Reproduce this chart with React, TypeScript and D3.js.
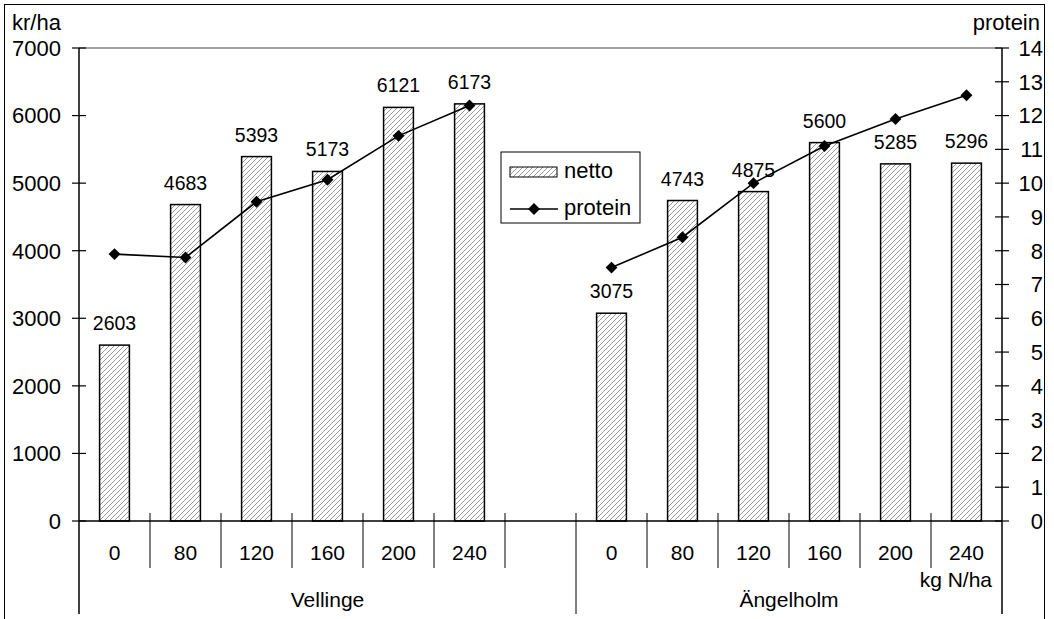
import React, { useEffect, useRef } from "react";
import * as d3 from "d3";

// slots along the x axis: 6 Vellinge rates, an empty gap slot, 6 Ängelholm rates
const slots = ["V0", "V80", "V120", "V160", "V200", "V240", "gap", "A0", "A80", "A120", "A160", "A200", "A240"];
const slotLabels = ["0", "80", "120", "160", "200", "240", "", "0", "80", "120", "160", "200", "240"];
const netto = [2603, 4683, 5393, 5173, 6121, 6173, null, 3075, 4743, 4875, 5600, 5285, 5296];
const protein = [7.9, 7.8, 9.45, 10.1, 11.4, 12.3, null, 7.5, 8.4, 10.0, 11.1, 11.9, 12.6];
const groups = [
  { name: "Vellinge", from: 0, to: 7 },
  { name: "Ängelholm", from: 7, to: 13 },
];
const leftTicks = d3.range(0, 7001, 1000);
const rightTicks = d3.range(0, 15, 1);

const FONT = "'Liberation Sans', Arial, sans-serif";

export default function App() {
  const ref = useRef<SVGSVGElement>(null);

  useEffect(() => {
    const svg = d3.select(ref.current);
    svg.selectAll("*").remove();

    const left = 79, right = 1002, top = 48, bottom = 521;

    const x = d3.scaleBand<string>().domain(slots).range([left, right]).padding(0);
    const yL = d3.scaleLinear().domain([0, 7000]).range([bottom, top]);
    const yR = d3.scaleLinear().domain([0, 14]).range([bottom, top]);
    const barW = x.bandwidth() * 0.42;
    const cx = (i: number) => (x(slots[i]) as number) + x.bandwidth() / 2;

    const defs = svg.append("defs");
    const pat = defs.append("pattern").attr("id", "hatch")
      .attr("patternUnits", "userSpaceOnUse").attr("width", 5).attr("height", 5);
    pat.append("rect").attr("width", 5).attr("height", 5).attr("fill", "#fff");
    pat.append("path").attr("d", "M-1,1 l2,-2 M0,5 l5,-5 M4,6 l2,-2")
      .attr("stroke", "#999").attr("stroke-width", 1);

    // outer frame
    svg.append("rect").attr("x", 4.5).attr("y", 4.5).attr("width", 1040).attr("height", 640)
      .attr("fill", "none").attr("stroke", "#000").attr("stroke-width", 1);

    // top border of plot area
    svg.append("line").attr("x1", left).attr("x2", right).attr("y1", top).attr("y2", top)
      .attr("stroke", "#808080").attr("stroke-width", 1.5);

    // bars
    const g = svg.append("g");
    netto.forEach((v, i) => {
      if (v == null) return;
      g.append("rect")
        .attr("x", cx(i) - barW / 2).attr("y", yL(v))
        .attr("width", barW).attr("height", bottom - yL(v))
        .attr("fill", "url(#hatch)").attr("stroke", "#000").attr("stroke-width", 1.5);
      g.append("text")
        .attr("x", cx(i)).attr("y", yL(v) - 15)
        .attr("text-anchor", "middle").attr("font-size", 19.5).attr("font-family", FONT)
        .text(v);
    });

    // axes lines
    svg.append("line").attr("x1", left).attr("x2", left).attr("y1", top).attr("y2", 614)
      .attr("stroke", "#000").attr("stroke-width", 1.5);
    svg.append("line").attr("x1", right).attr("x2", right).attr("y1", top).attr("y2", 614)
      .attr("stroke", "#000").attr("stroke-width", 1.5);
    svg.append("line").attr("x1", left).attr("x2", right).attr("y1", bottom).attr("y2", bottom)
      .attr("stroke", "#000").attr("stroke-width", 1.5);

    leftTicks.forEach(t => {
      svg.append("line").attr("x1", left - 7).attr("x2", left + 7).attr("y1", yL(t)).attr("y2", yL(t))
        .attr("stroke", "#000").attr("stroke-width", 1.2);
      svg.append("text").attr("x", 61).attr("y", yL(t)).attr("dy", "0.36em")
        .attr("text-anchor", "end").attr("font-size", 22).attr("font-family", FONT).text(t);
    });
    rightTicks.forEach(t => {
      svg.append("line").attr("x1", right - 7).attr("x2", right + 7).attr("y1", yR(t)).attr("y2", yR(t))
        .attr("stroke", "#000").attr("stroke-width", 1.2);
      svg.append("text").attr("x", 1043).attr("y", yR(t)).attr("dy", "0.36em")
        .attr("text-anchor", "end").attr("font-size", 22).attr("font-family", FONT).text(t);
    });

    // category separators
    d3.range(1, slots.length).forEach(k => {
      const xx = x(slots[k]) as number;
      const long = groups.some(gr => gr.from === k);
      svg.append("line").attr("x1", xx).attr("x2", xx).attr("y1", bottom - 8).attr("y2", long ? 614 : 568)
        .attr("stroke", "#000").attr("stroke-width", 1);
    });
    slotLabels.forEach((l, i) => {
      svg.append("text").attr("x", cx(i)).attr("y", 560)
        .attr("text-anchor", "middle").attr("font-size", 21).attr("font-family", FONT).text(l);
    });
    groups.forEach(gr => {
      const x0 = x(slots[gr.from]) as number;
      const x1 = gr.to >= slots.length ? right : (x(slots[gr.to]) as number);
      svg.append("text").attr("x", (x0 + x1) / 2).attr("y", 607)
        .attr("text-anchor", "middle").attr("font-size", 21).attr("font-family", FONT).text(gr.name);
    });
    svg.append("text").attr("x", 992).attr("y", 587).attr("text-anchor", "end")
      .attr("font-size", 21).attr("font-family", FONT).text("kg N/ha");

    // axis titles
    svg.append("text").attr("x", 12).attr("y", 30).attr("font-size", 22).attr("font-family", FONT).text("kr/ha");
    svg.append("text").attr("x", 1040).attr("y", 30).attr("text-anchor", "end")
      .attr("font-size", 22).attr("font-family", FONT).text("protein");

    // protein line
    const line = d3.line<number | null>()
      .defined(d => d != null)
      .x((d, i) => cx(i))
      .y(d => yR(d as number));
    svg.append("path").datum(protein).attr("d", line)
      .attr("fill", "none").attr("stroke", "#000").attr("stroke-width", 1.6);
    const diamond = d3.symbol().type(d3.symbolDiamond2).size(90);
    protein.forEach((v, i) => {
      if (v == null) return;
      svg.append("path").attr("d", diamond).attr("transform", `translate(${cx(i)},${yR(v)})`)
        .attr("fill", "#000");
    });

    // legend
    const lg = svg.append("g");
    lg.append("rect").attr("x", 501).attr("y", 152).attr("width", 139).attr("height", 71)
      .attr("fill", "#fff").attr("stroke", "#000").attr("stroke-width", 1);
    lg.append("rect").attr("x", 510).attr("y", 167).attr("width", 47).attr("height", 10)
      .attr("fill", "url(#hatch)").attr("stroke", "#000").attr("stroke-width", 1);
    lg.append("text").attr("x", 564).attr("y", 178).attr("font-size", 22).attr("font-family", FONT).text("netto");
    lg.append("line").attr("x1", 510).attr("x2", 558).attr("y1", 209).attr("y2", 209)
      .attr("stroke", "#000").attr("stroke-width", 1.6);
    lg.append("path").attr("d", diamond).attr("transform", "translate(534,209)").attr("fill", "#000");
    lg.append("text").attr("x", 564).attr("y", 215).attr("font-size", 22).attr("font-family", FONT).text("protein");
  }, []);

  return (
    <div style={{ position: "absolute", left: 0, top: 0 }}>
      <svg ref={ref} width={1054} height={619} style={{ display: "block", background: "#fff" }} />
    </div>
  );
}
